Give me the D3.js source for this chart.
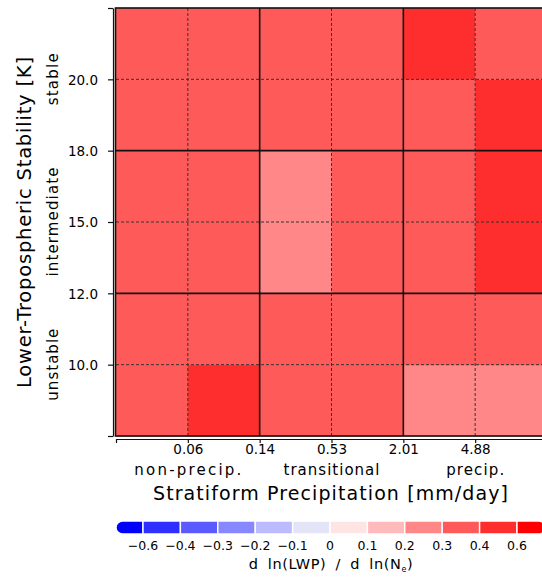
<!DOCTYPE html>
<html><head><meta charset="utf-8">
<script src="https://cdn.jsdelivr.net/npm/d3@7"></script>
<style>
body{margin:0;background:#fff}
svg{display:block}
text{font-family:"DejaVu Sans",sans-serif;fill:#000}
</style>
</head><body><script>
// ---- data ----
const precipEdges = ["0.06", "0.14", "0.53", "2.01", "4.88"];
const precipGroups = ["non-precip.", "transitional", "precip."];
const ltsEdges = ["10.0", "12.0", "15.0", "18.0", "20.0"];
const ltsGroups = ["unstable", "intermediate", "stable"];
const colBins = [0, 1, 2, 3, 4, 5];
const rowBins = [0, 1, 2, 3, 4, 5]; // bottom (low LTS) to top (high LTS)
// d ln(LWP) / d ln(Nd), one array per LTS bin, columns = precipitation bins
const sensLTSbelow10 = [0.35, 0.45, 0.34, 0.35, 0.26, 0.27];
const sensLTS10to12  = [0.35, 0.35, 0.34, 0.35, 0.35, 0.36];
const sensLTS12to15  = [0.35, 0.36, 0.27, 0.35, 0.34, 0.45];
const sensLTS15to18  = [0.35, 0.36, 0.27, 0.35, 0.34, 0.46];
const sensLTS18to20  = [0.35, 0.35, 0.36, 0.35, 0.34, 0.45];
const sensLTSabove20 = [0.35, 0.35, 0.36, 0.35, 0.46, 0.35];
const sensRows = [sensLTSbelow10, sensLTS10to12, sensLTS12to15, sensLTS15to18, sensLTS18to20, sensLTSabove20];
const levels = [-0.6, -0.4, -0.3, -0.2, -0.1, 0, 0.1, 0.2, 0.3, 0.4, 0.6];
const levelLabels = ["\u22120.6", "\u22120.4", "\u22120.3", "\u22120.2", "\u22120.1", "0", "0.1", "0.2", "0.3", "0.4", "0.6"];
const palette = ["#0000ff", "#2e2eff", "#5a5aff", "#8787ff", "#bbbbff", "#e4e4f9",
                 "#ffe4e4", "#ffbbbb", "#ff8787", "#ff5a5a", "#ff2e2e", "#ff0000"];

// ---- layout ----
const W = 542, H = 577;
const L = 116, R = 547, T = 8, B = 436;
const svg = d3.select("body").append("svg").attr("width", W).attr("height", H);

const x = d3.scaleBand().domain(colBins).range([L, R]);
const y = d3.scaleBand().domain(rowBins).range([B, T]);
const xEdge = d3.scaleLinear().domain([0, 6]).range([L, R]);
const yEdge = d3.scaleLinear().domain([0, 6]).range([B, T]);
const color = d3.scaleThreshold().domain(levels).range(palette);

const cells = [];
sensRows.forEach((row, r) => row.forEach((v, c) => cells.push({r, c, v})));
svg.append("g").selectAll("rect").data(cells).join("rect")
  .attr("x", d => x(d.c)).attr("y", d => y(d.r))
  .attr("width", x.bandwidth() + 0.5).attr("height", y.bandwidth() + 0.5)
  .attr("fill", d => color(d.v));

// grid lines
const g = svg.append("g");
[1, 3, 5].forEach(i => {
  g.append("line").attr("x1", xEdge(i)).attr("x2", xEdge(i)).attr("y1", T).attr("y2", B)
    .attr("stroke", "#333").attr("stroke-width", 1).attr("stroke-dasharray", "3,2");
  g.append("line").attr("y1", yEdge(i)).attr("y2", yEdge(i)).attr("x1", L).attr("x2", R)
    .attr("stroke", "#333").attr("stroke-width", 1).attr("stroke-dasharray", "3,2");
});
[2, 4].forEach(i => {
  g.append("line").attr("x1", xEdge(i)).attr("x2", xEdge(i)).attr("y1", T).attr("y2", B)
    .attr("stroke", "#111").attr("stroke-width", 1.6);
  g.append("line").attr("y1", yEdge(i)).attr("y2", yEdge(i)).attr("x1", L).attr("x2", R)
    .attr("stroke", "#111").attr("stroke-width", 1.6);
});
// frame
svg.append("rect").attr("x", L - 0.5).attr("y", T).attr("width", R - L + 1).attr("height", B - T)
  .attr("fill", "none").attr("stroke", "#111").attr("stroke-width", 1.6);

// axes
const xAxis = d3.axisBottom(xEdge).tickValues([0, 1, 2, 3, 4, 5, 6])
  .tickFormat(i => (i >= 1 && i <= 5) ? precipEdges[i - 1] : "")
  .tickSize(4).tickSizeOuter(0);
const xa = svg.append("g").attr("transform", `translate(0,${B + 3})`).call(xAxis);
xa.selectAll("text").attr("y", 0).attr("dy", 0).attr("transform", "translate(0,15)")
  .style("font-size", "13.5px").style("font-family", '"DejaVu Sans",sans-serif');

const yAxis = d3.axisLeft(yEdge).tickValues([0, 1, 2, 3, 4, 5, 6])
  .tickFormat(i => (i >= 1 && i <= 5) ? ltsEdges[i - 1] : "")
  .tickSize(5).tickSizeOuter(0);
const ya = svg.append("g").attr("transform", `translate(${L - 3},0)`).call(yAxis);
ya.selectAll("text").attr("x", -15).attr("dy", "0.36em")
  .style("font-size", "13.5px").style("font-family", '"DejaVu Sans",sans-serif');
[xa, ya].forEach(a => { a.selectAll("path,line").attr("stroke", "#111").attr("stroke-width", 1.2); });

// group labels
precipGroups.forEach((t, k) => {
  svg.append("text").attr("x", xEdge(2 * k + 1)).attr("y", 475).attr("text-anchor", "middle")
    .style("font-size", "15px").attr("textLength", [107, 96, 58][k]).attr("lengthAdjust", "spacing").text(t);
});
ltsGroups.forEach((t, k) => {
  const cy = (yEdge(2 * k) + yEdge(2 * k + 2)) / 2;
  svg.append("text").attr("transform", `translate(58,${cy}) rotate(-90)`).attr("text-anchor", "middle")
    .style("font-size", "15px").attr("textLength", [72, 109, 52][k]).attr("lengthAdjust", "spacing").text(t);
});

// axis titles
svg.append("text").attr("x", 330.5).attr("y", 500).attr("text-anchor", "middle")
  .style("font-size", "19px").attr("textLength", 355).attr("lengthAdjust", "spacing")
  .text("Stratiform Precipitation [mm/day]");
svg.append("text").attr("transform", `translate(31,222.5) rotate(-90)`).attr("text-anchor", "middle")
  .style("font-size", "19.5px").attr("textLength", 331).attr("lengthAdjust", "spacing")
  .text("Lower-Tropospheric Stability [K]");

// colorbar
const cb = d3.scaleLinear().domain([0, levels.length - 1]).range([143, 517]);
const cy0 = 521, cy1 = 534, rr = (cy1 - cy0) / 2;
const cbg = svg.append("g");
palette.forEach((c, i) => {
  let p;
  if (i === 0) {
    const x1 = cb(0), x0 = 116;
    p = `M${x1},${cy0}H${x0 + rr}A${rr},${rr} 0 0 0 ${x0 + rr},${cy1}H${x1}Z`;
  } else if (i === palette.length - 1) {
    const x0 = cb(levels.length - 1), x1 = 545;
    p = `M${x0},${cy0}H${x1 - rr}A${rr},${rr} 0 0 1 ${x1 - rr},${cy1}H${x0}Z`;
  } else {
    p = `M${cb(i - 1)},${cy0}H${cb(i)}V${cy1}H${cb(i - 1)}Z`;
  }
  cbg.append("path").attr("d", p).attr("fill", c).attr("stroke", "#fff").attr("stroke-width", 1.4);
});
levelLabels.forEach((t, i) => {
  svg.append("text").attr("x", cb(i)).attr("y", 549.5).attr("text-anchor", "middle")
    .style("font-size", "12.5px").text(t);
});
const ct = svg.append("text").attr("x", 331).attr("y", 569).attr("text-anchor", "middle")
  .style("font-size", "14.5px").style("word-spacing", "4px").style("letter-spacing", "0.6px");
ct.append("tspan").text("d ln(LWP) / d ln(N");
ct.append("tspan").attr("dy", 3).style("font-size", "8px").text("e");
ct.append("tspan").attr("dy", -3).text(")");
</script></body></html>
